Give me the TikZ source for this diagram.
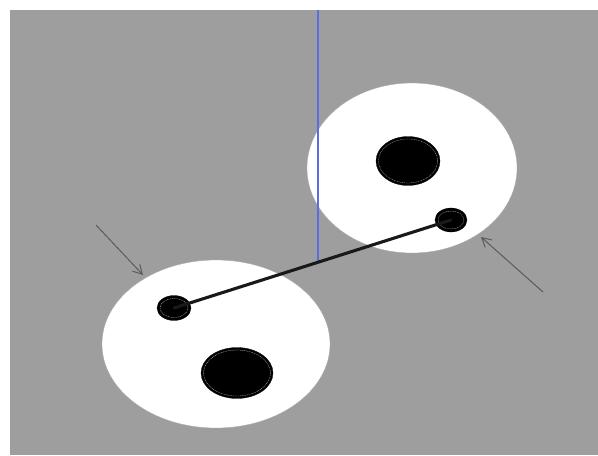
\documentclass[tikz,border=0pt]{standalone}
\usetikzlibrary{arrows.meta,shapes.geometric}
\definecolor{backdrop}{HTML}{9E9E9E}
\definecolor{axisblue}{HTML}{5A6EE0}
\definecolor{pointer}{HTML}{5A5A5A}

\begin{document}
\begin{tikzpicture}[
  x=0.05cm, y=-0.05cm,
  disc/.style={ellipse, fill=white, draw=gray!70, line width=0.4pt, inner sep=0pt},
  hole/.style={ellipse, fill=black, draw=black, inner sep=0pt},
  rim/.style={ellipse, draw=white!85!black, dashed, dash pattern=on 1.5pt off 1pt,
              line width=0.35pt, inner sep=0pt},
  rod/.style={line width=4.4pt, draw=black!90, line cap=round},
  axis/.style={line width=2.8pt, draw=axisblue},
  hint/.style={-{Straight Barb[length=4.5mm, width=5mm]}, line width=1.4pt, draw=pointer}
]

% frame
\useasboundingbox (0,0) rectangle (598,455);
\fill[white] (0,0) rectangle (598,455);
\fill[backdrop] (10,10) rectangle (598,455);

% upper disc
\node[disc, minimum width=10.5cm, minimum height=8.5cm] (upper) at (412,168) {};
\node[hole, minimum width=3.2cm, minimum height=2.45cm] (upbig) at (408,161) {};
\node[rim, minimum width=2.95cm, minimum height=2.2cm] at (upbig) {};
\node[hole, minimum width=1.6cm, minimum height=1.2cm] (upsmall) at (451,220) {};
\node[rim, minimum width=1.3cm, minimum height=0.9cm] at (upsmall) {};

% lower disc
\node[disc, minimum width=11.4cm, minimum height=8.4cm] (lower) at (216,344) {};
\node[hole, minimum width=3.6cm, minimum height=2.55cm] (lowbig) at (237,373) {};
\node[rim, minimum width=3.35cm, minimum height=2.3cm] at (lowbig) {};
\node[hole, minimum width=1.7cm, minimum height=1.25cm] (lowsmall) at (174,308) {};
\node[rim, minimum width=1.4cm, minimum height=0.95cm] at (lowsmall) {};

% vertical axis and connecting rod
\coordinate (top) at (318,10);
\coordinate (foot) at (318,262);
\draw[axis] (top) -- (foot);
\draw[rod] (lowsmall.center) -- (upsmall.center);

% pointers
\coordinate (nw) at (96,225);
\coordinate (se) at (543,292);
\coordinate (nwtip) at (143,275);
\coordinate (setip) at (481,237);
\draw[hint] (nw) -- (nwtip);
\draw[hint] (se) -- (setip);

\end{tikzpicture}
\end{document}
